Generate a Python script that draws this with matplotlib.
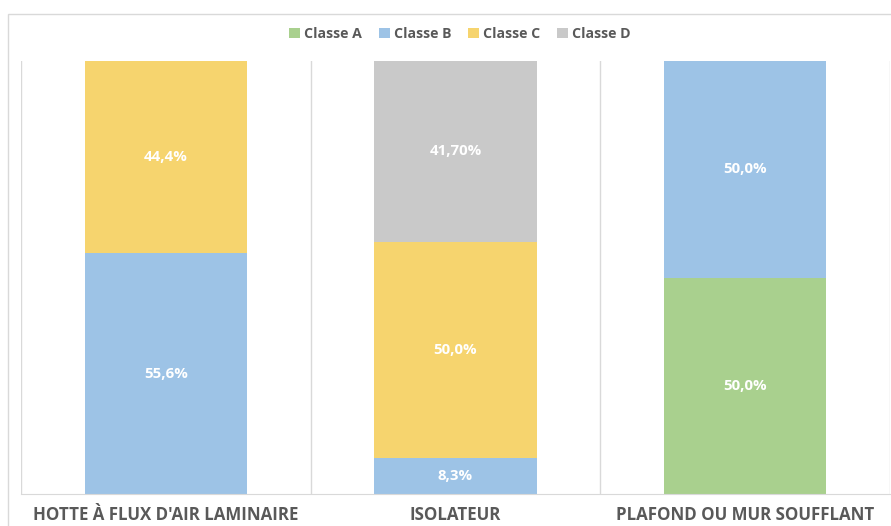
import matplotlib.pyplot as plt
import matplotlib.patches as mpatches
import numpy as np

categories = ["HOTTE À FLUX D'AIR LAMINAIRE", "ISOLATEUR", "PLAFOND OU MUR SOUFFLANT"]
series = ["Classe A", "Classe B", "Classe C", "Classe D"]
classe_a = [0, 0, 50.0]
classe_b = [55.6, 8.3, 50.0]
classe_c = [44.4, 50.0, 0]
classe_d = [0, 41.7, 0]
labels_a = ["", "", "50,0%"]
labels_b = ["55,6%", "8,3%", "50,0%"]
labels_c = ["44,4%", "50,0%", ""]
labels_d = ["", "41,70%", ""]

colors = ["#A9D08E", "#9DC3E6", "#F6D46E", "#C9C9C9"]
plt.rcParams['font.family'] = ['Open Sans', 'DejaVu Sans']

W, H = 891, 526
fig = plt.figure(figsize=(W / 100, H / 100), dpi=100)
# outer chart border
fig.patches.append(mpatches.Rectangle((8 / W, -0.1), 1.2, 1 - 14 / H + 0.1,
                                      transform=fig.transFigure, fill=False,
                                      edgecolor="#D9D9D9", lw=1))
ax = fig.add_axes([21 / W, 1 - 494 / H, (890 - 21) / W, (494 - 61) / H])

x = np.arange(len(categories))
bottom = np.zeros(len(categories))
all_vals = [classe_a, classe_b, classe_c, classe_d]
all_labels = [labels_a, labels_b, labels_c, labels_d]
for name, vals, labs, col in zip(series, all_vals, all_labels, colors):
    vals = np.array(vals)
    ax.bar(x, vals, 0.56, bottom=bottom, color=col, label=name)
    for i in range(len(x)):
        if labs[i]:
            ax.text(x[i], bottom[i] + vals[i] / 2, labs[i], ha="center", va="center",
                    color="white", fontsize=10.8, fontweight="bold")
    bottom += vals

ax.set_xlim(-0.5, 2.5)
ax.set_ylim(0, 100)
ax.set_yticks([])
for xv in [-0.5, 0.5, 1.5, 2.5]:
    ax.axvline(xv, color="#D9D9D9", lw=1, zorder=0)
for s in ["top", "left", "right"]:
    ax.spines[s].set_visible(False)
ax.spines["bottom"].set_color("#D9D9D9")
ax.set_xticks(x)
ax.set_xticklabels(categories, fontsize=12.2, fontweight="bold", color="#595959")
ax.tick_params(axis="x", length=0, pad=9)

leg = fig.legend(loc="center", bbox_to_anchor=(460 / W, 1 - 34 / H), ncol=4, frameon=False,
                 handlelength=0.75, handleheight=0.75, handletextpad=0.3, columnspacing=1.2,
                 prop={"size": 10.2, "weight": "bold"})
for t in leg.get_texts():
    t.set_color("#595959")

fig.savefig("out.png", dpi=100)
